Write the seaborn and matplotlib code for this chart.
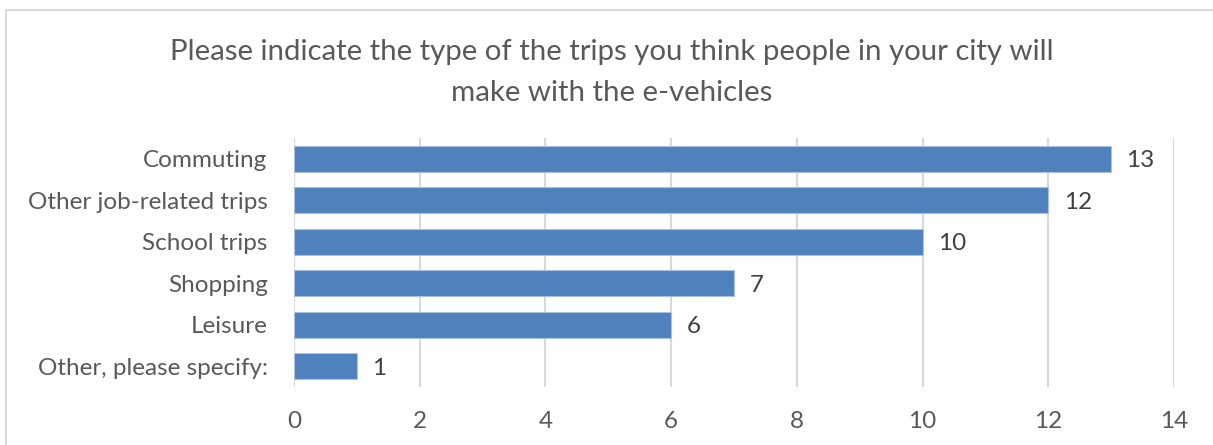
import pandas as pd
import seaborn as sns
import matplotlib.pyplot as plt
from matplotlib.patches import Rectangle

# data
trip_types = ["Commuting", "Other job-related trips", "School trips",
              "Shopping", "Leisure", "Other, please specify:"]
counts = [13, 12, 10, 7, 6, 1]
x_ticks = [0, 2, 4, 6, 8, 10, 12, 14]

df = pd.DataFrame({"trip": trip_types, "count": counts})

sns.set_style("white")
plt.rcParams['font.family'] = ['Lato', 'DejaVu Sans']

fig = plt.figure(figsize=(12.13, 4.45), dpi=100)
ax = fig.add_axes([294 / 1213, 1 - 387 / 445, 880 / 1213, 249 / 445])

sns.barplot(ax=ax, data=df, x="count", y="trip", order=trip_types,
            color="#4F81BD", saturation=1, width=0.63,
            edgecolor="#A9C1E0", linewidth=0.8, zorder=3)

# value labels at the bar ends
value_labels = ax.bar_label(ax.containers[0], labels=[str(c) for c in counts],
                            padding=11, fontsize=17.5, color="#404040")
for t in value_labels:
    t.set_va("center_baseline")

ax.set_xlim(0, 14)
ax.set_xticks(x_ticks)
ax.set_xticklabels([str(t) for t in x_ticks])
ax.grid(axis="x", color="#D9D9D9", linewidth=1.5, zorder=0)
ax.set_xlabel("")
ax.set_ylabel("")
ax.tick_params(axis="both", length=0, labelsize=17.5, labelcolor="#595959")
ax.tick_params(axis="x", pad=17)
ax.tick_params(axis="y", pad=19)
for lbl in ax.get_yticklabels():
    lbl.set_va("center_baseline")

sns.despine(ax=ax, left=True, bottom=True, top=True, right=True)

fig.suptitle("Please indicate the type of the trips you think people in your city will\n"
             "make with the e-vehicles", y=1 - 39 / 445, va="top",
             x=612 / 1213, fontsize=21.2, color="#595959", linespacing=1.73)

# chart area border (cut off on the right and bottom as in the original)
fig.patches.append(Rectangle((6 / 1213, -0.05), 1.1, 1 - 10 / 445 + 0.05,
                             transform=fig.transFigure, fill=False,
                             edgecolor="#D9D9D9", linewidth=1.5))

fig.savefig("out.png", dpi=100)
